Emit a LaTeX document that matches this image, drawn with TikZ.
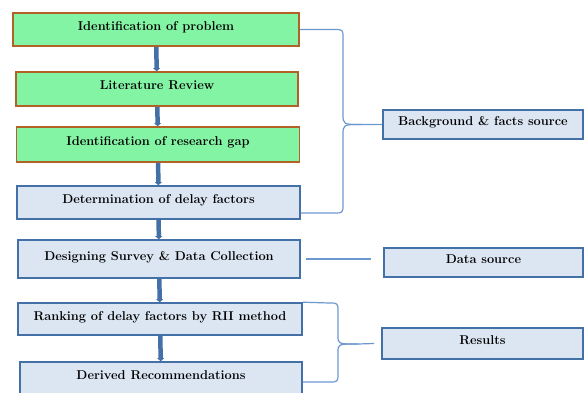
\documentclass[tikz,border=0pt]{standalone}
\usepackage{tikz}
\usetikzlibrary{arrows.meta}
\definecolor{mint}{RGB}{130,244,164}
\definecolor{rust}{RGB}{178,98,38}
\definecolor{paleblue}{RGB}{220,230,242}
\definecolor{steel}{RGB}{68,112,168}
\definecolor{linkblue}{RGB}{108,152,208}

\begin{document}
\begin{tikzpicture}[x=1pt,y=-1pt,
  box/.style={line width=1.6pt,minimum height=33pt,inner sep=2pt,
    text height=9pt,text depth=7pt,
    font=\fontsize{12.8}{14}\selectfont\bfseries},
  greenbox/.style={box,draw=rust,fill=mint},
  bluebox/.style={box,draw=steel,fill=paleblue},
  flow/.style={draw=steel,line width=4.5pt,-{Triangle[width=7pt,length=3pt]}},
  link/.style={draw=linkblue,line width=1.2pt}]
  \useasboundingbox (0,0) rectangle (584,393);
  % left column
  \node[greenbox,minimum width=286pt] (idprob) at (156,29.5) {Identification of problem};
  \node[greenbox,minimum width=282pt,minimum height=34pt] (litrev) at (157,89) {Literature Review};
  \node[greenbox,minimum width=283pt,minimum height=35pt] (resgap) at (158,144.5) {Identification of research gap};
  \node[bluebox,minimum width=283pt] (detdelay) at (158.5,202.5) {Determination of delay factors};
  \node[bluebox,minimum width=282pt,minimum height=38pt] (dcoll) at (159,259) {Designing Survey \& Data Collection};
  \node[bluebox,minimum width=284pt,minimum height=32pt] (rank) at (160,319) {Ranking of delay factors by RII method};
  \node[bluebox,minimum width=282pt] (derived) at (161,378.5) {Derived Recommendations};
  % right column
  \node[bluebox,minimum width=200pt,minimum height=29pt] (bgsrc) at (483,124.5) {Background \& facts source};
  \node[bluebox,minimum width=199pt,minimum height=29pt] (dsrc) at (483.5,262.5) {Data source};
  \node[bluebox,minimum width=201pt,minimum height=31pt] (results) at (482.5,343.5) {Results};
  % arrows
  \foreach \a/\b in {idprob/litrev,litrev/resgap,resgap/detdelay,detdelay/dcoll,dcoll/rank,rank/derived}
    \draw[flow] (\a) -- (\b);
  % braces
  \coordinate (bgtip) at (362,124.5);
  \draw[link] (idprob.east) -- (334,29.5) .. controls (343,29.5) .. (343,38) -- (343,114)
    .. controls (343,124.5) .. (bgtip) -- (bgsrc.west);
  \draw[link] ([yshift=-10.5pt]detdelay.east) -- (334,213) .. controls (343,213) .. (343,204) -- (343,135)
    .. controls (343,124.5) .. (bgtip);
  \coordinate (restip) at (358,344);
  \draw[link] (rank.north east) -- (329,303) .. controls (338,303) .. (338,312) -- (338,336)
    .. controls (338,344) .. (restip) -- ([xshift=-7pt]results.west);
  \draw[link] ([yshift=-3.5pt]derived.east) -- (329,382) .. controls (338,382) .. (338,373) -- (338,352)
    .. controls (338,344) .. (restip);
  \draw[link,line width=1.6pt,shorten <=5pt,shorten >=12pt] (dcoll.east) -- (dcoll.east -| dsrc.west);
\end{tikzpicture}
\end{document}
